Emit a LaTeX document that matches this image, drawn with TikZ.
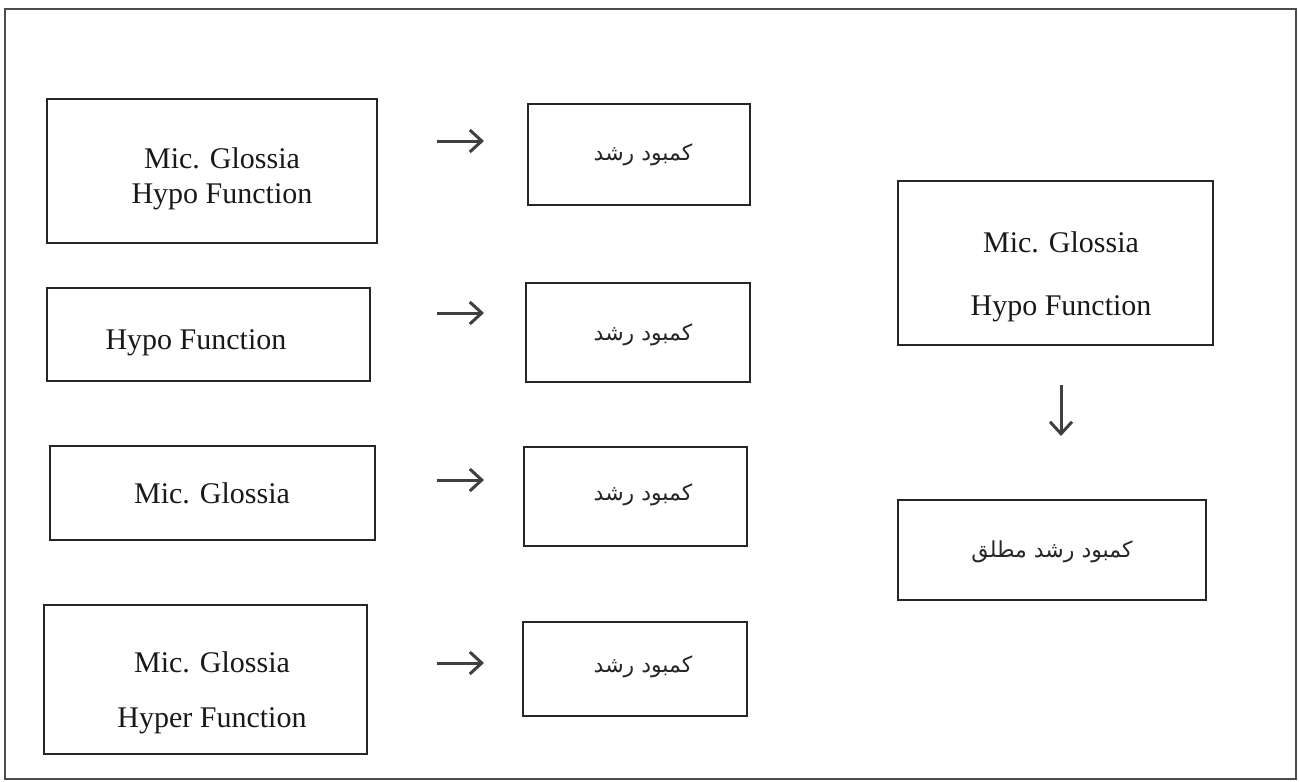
\documentclass[tikz,border=0pt]{standalone}
\usepackage{fontspec}
\setmainfont{Liberation Serif}
\newfontfamily\arabicfont[Script=Arabic]{DejaVu Sans}
\TeXXeTstate=1
\usetikzlibrary{arrows.meta}
\tikzset{
  box/.style={draw=black!85, line width=1pt},
  lbl/.style={font=\fontsize{15}{18}\selectfont, text=black!90, inner sep=0pt},
  albl/.style={font=\arabicfont\fontsize{11}{14}\selectfont, text=black!85, inner sep=0pt},
  arr/.style={draw=black!75, line width=1.5pt, -{Straight Barb[length=6pt,width=11pt,line width=1.5pt]}}
}
\begin{document}
\begin{tikzpicture}[x=0.5pt,y=-0.5pt]
\useasboundingbox (0,0) rectangle (1299,781);
\draw[line width=0.8pt, draw=black!70] (5,9) rectangle (1296,779);
% left column
\draw[box] (47,99) rectangle (377,243);
\node[lbl] (L1a) at (222,158) {Mic. Glossia};
\node[lbl] (L1b) at (222,197) {Hypo Function};
\draw[box] (47,288) rectangle (370,381);
\node[lbl] (L2a) at (196,343) {Hypo Function};
\draw[box] (50,446) rectangle (375,540);
\node[lbl] (L3a) at (212,493) {Mic. Glossia};
\draw[box] (44,605) rectangle (367,754);
\node[lbl] (L4a) at (212,662) {Mic. Glossia};
\node[lbl] (L4b) at (212,721) {Hyper Function};
% middle column
\draw[box] (528,104) rectangle (750,205);
\node[albl] (R1) at (643,155) {\beginR کمبود رشد\endR};
\draw[box] (526,283) rectangle (750,382);
\node[albl] (R2) at (643,335) {\beginR کمبود رشد\endR};
\draw[box] (524,447) rectangle (747,546);
\node[albl] (R3) at (643,495) {\beginR کمبود رشد\endR};
\draw[box] (523,622) rectangle (747,716);
\node[albl] (R4) at (643,667) {\beginR کمبود رشد\endR};
% arrows
\coordinate (a1s) at (437,141); \coordinate (a1e) at (484,141);
\coordinate (a2s) at (437,313); \coordinate (a2e) at (484,313);
\coordinate (a3s) at (437,480); \coordinate (a3e) at (484,480);
\coordinate (a4s) at (437,663); \coordinate (a4e) at (484,663);
\draw[arr] (a1s) -- (a1e);
\draw[arr] (a2s) -- (a2e);
\draw[arr] (a3s) -- (a3e);
\draw[arr] (a4s) -- (a4e);
% right column
\draw[box] (898,181) rectangle (1213,345);
\node[lbl] (Ta) at (1061,242) {Mic. Glossia};
\node[lbl] (Tb) at (1061,309) {Hypo Function};
\draw[box] (898,500) rectangle (1206,600);
\node[albl] (B) at (1052,552) {\beginR کمبود رشد مطلق\endR};
\coordinate (ds) at (1061,385); \coordinate (de) at (1061,436);
\draw[arr] (ds) -- (de);
\end{tikzpicture}
\end{document}
